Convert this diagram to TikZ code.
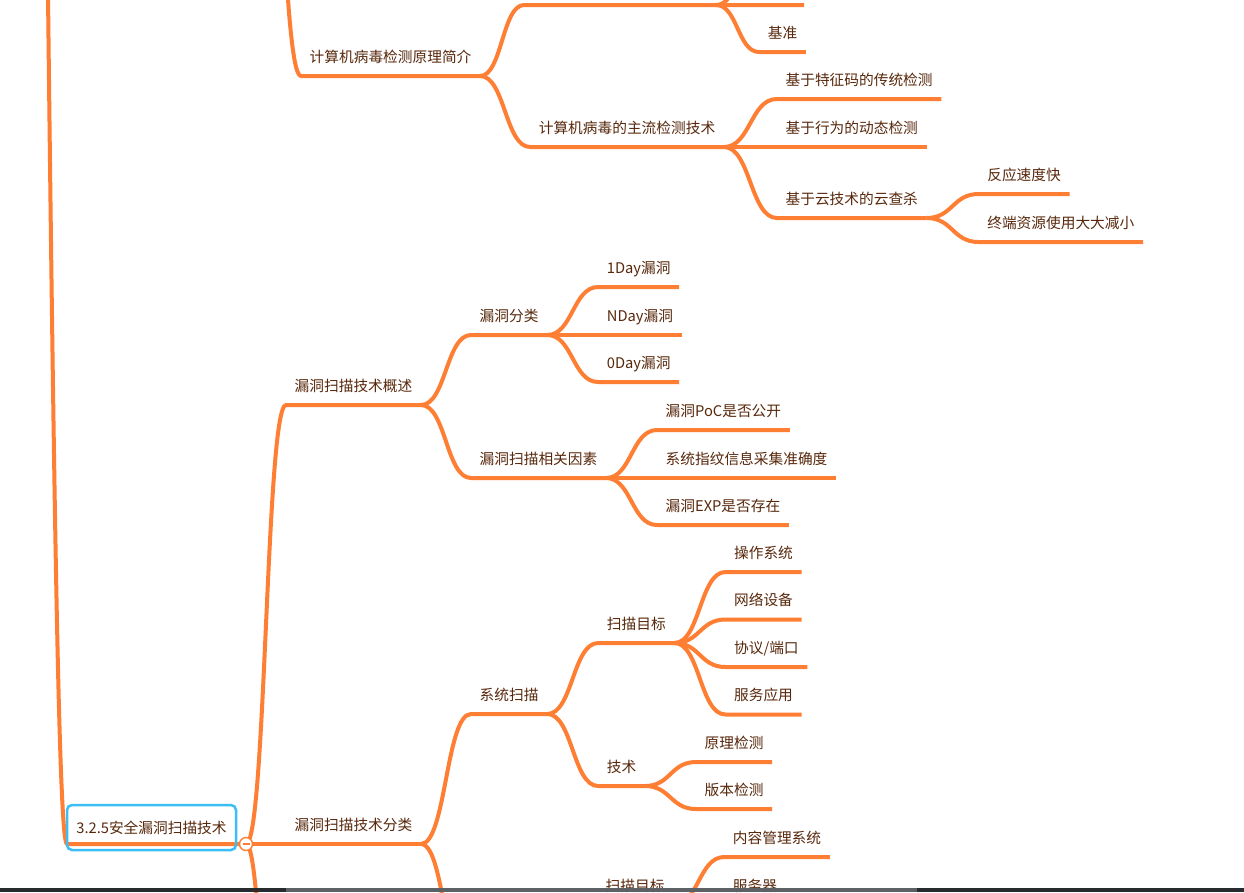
\documentclass[tikz,border=0pt]{standalone}
\usepackage{fontspec}
\setmainfont{Noto Sans CJK SC}
\usepackage{xcolor}
\usetikzlibrary{calc}

\definecolor{branchorange}{RGB}{254,126,52}
\definecolor{topicbrown}{RGB}{88,40,12}
\definecolor{rootblue}{RGB}{60,190,245}
\definecolor{bardark}{RGB}{40,43,46}
\definecolor{bargrey}{RGB}{92,97,102}

\begin{document}
\begin{tikzpicture}[
    x=1pt, y=-1pt,
    topic/.style={
        anchor=south west,
        inner xsep=8.5pt,
        inner ysep=0pt,
        text height=12pt,
        text depth=13.4pt,
        text=topicbrown,
        font=\fontsize{14.7}{17}\selectfont
    },
    rootbox/.style={
        draw=rootblue,
        line width=2.5pt,
        rounded corners=5pt,
        minimum width=169pt,
        minimum height=45pt,
        inner sep=0pt,
        text=topicbrown,
        font=\fontsize{14.7}{17}\selectfont
    },
    link/.style={
        draw=branchorange,
        line width=4pt,
        line join=round
    },
    branch/.style={
        to path={
            let \p1=(\tikztostart), \p2=(\tikztotarget) in
            .. controls ({(\x1+\x2)/2},\y1) and ({(\x1+\x2)/2},\y2) .. (\tikztotarget)
        }
    },
    fold/.style={
        circle,
        draw=branchorange,
        fill=white,
        line width=1.4pt,
        minimum size=13pt,
        inner sep=0pt,
        path picture={
            \draw[branchorange, line width=1.4pt]
                ([xshift=3pt]path picture bounding box.west) --
                ([xshift=-3pt]path picture bounding box.east);
        }
    }
]

\path[use as bounding box, fill=white] (0,0) rectangle (1244,892);
\clip (0,0) rectangle (1244,892);

\coordinate (sec32) at (48,-5);
\coordinate (sec324) at (262,-300);
\coordinate (rootul) at (67,844);
\coordinate (rootjoint) at (246,844);
\coordinate (rootnext) at (286,1300);

\node[topic] (virusintro) at (301,76) {计算机病毒检测原理简介};
\coordinate (hiddenA) at ($(virusintro.south east)+(44,-71)$);
\coordinate (hiddenB) at ($(hiddenA)+(192,0)$);
\coordinate (hiddenup) at ($(hiddenB)+(43,-48)$);
\coordinate (hiddenmid) at ($(hiddenB)+(88,0)$);
\node[topic] (jizhun) at ($(hiddenB)+(43,47)$) {基准};

\node[topic] (mainstream) at ($(virusintro.south east)+(50,71)$) {计算机病毒的主流检测技术};
\node[topic] (signature) at ($(mainstream.south east)+(53,-48)$) {基于特征码的传统检测};
\node[topic] (behaviour) at ($(signature.south west)+(0,48)$) {基于行为的动态检测};
\node[topic] (cloud) at ($(behaviour.south west)+(0,71)$) {基于云技术的云查杀};
\node[topic] (fastreact) at ($(cloud.south east)+(52,-24)$) {反应速度快};
\node[topic] (lowload) at ($(fastreact.south west)+(0,48)$) {终端资源使用大大减小};

\node[topic] (overview) at ($(rootjoint)+(40,-439)$) {漏洞扫描技术概述};
\node[topic] (vulnclass) at ($(overview.south east)+(50,-70)$) {漏洞分类};
\node[topic] (oneday) at ($(vulnclass.south east)+(51,-48)$) {1Day漏洞};
\node[topic] (nday) at ($(oneday.south west)+(0,48)$) {NDay漏洞};
\node[topic] (zeroday) at ($(nday.south west)+(0,47)$) {0Day漏洞};
\node[topic] (factors) at ($(overview.south east)+(50,73)$) {漏洞扫描相关因素};
\node[topic] (poc) at ($(factors.south east)+(51,-48)$) {漏洞PoC是否公开};
\node[topic] (fingerprint) at ($(poc.south west)+(0,48)$) {系统指纹信息采集准确度};
\node[topic] (exploit) at ($(fingerprint.south west)+(0,47)$) {漏洞EXP是否存在};

\node[topic] (scantypes) at ($(rootjoint)+(40,0)$) {漏洞扫描技术分类};
\node[topic] (sysscan) at ($(scantypes.south east)+(50,-130)$) {系统扫描};
\node[topic] (systarget) at ($(sysscan.south east)+(51,-71)$) {扫描目标};
\node[topic] (os) at ($(systarget.south east)+(51,-71)$) {操作系统};
\node[topic] (netdev) at ($(os.south west)+(0,47.5)$) {网络设备};
\node[topic] (port) at ($(netdev.south west)+(0,47.5)$) {协议/端口};
\node[topic] (service) at ($(port.south west)+(0,47.5)$) {服务应用};
\node[topic] (technique) at ($(sysscan.south east)+(51,72)$) {技术};
\node[topic] (principle) at ($(technique.south east)+(51,-24)$) {原理检测};
\node[topic] (version) at ($(principle.south west)+(0,47)$) {版本检测};
\coordinate (nextscanA) at ($(scantypes.south east)+(50,146)$);
\coordinate (nextscanB) at ($(nextscanA)+(79,0)$);
\node[topic] (webtarget) at ($(nextscanB)+(47,-85)$) {扫描目标};
\node[topic] (cms) at ($(webtarget.south east)+(51,-48)$) {内容管理系统};
\node[topic] (server) at ($(cms.south west)+(0,48)$) {服务器};

\draw[link] (sec32) .. controls (55,600) and (60,844) .. (rootul) -- (rootjoint);
\draw[link] (sec324) to[branch] (virusintro.south west) -- (virusintro.south east);
\draw[link] (virusintro.south east) to[branch] (hiddenA) -- (hiddenB) -- (hiddenmid);
\draw[link] (hiddenB) to[branch] (hiddenup) -- ++(40,0);
\draw[link] (hiddenB) to[branch] (jizhun.south west) -- (jizhun.south east);
\draw[link] (virusintro.south east) to[branch] (mainstream.south west) -- (mainstream.south east);
\draw[link] (mainstream.south east) to[branch] (signature.south west) -- (signature.south east);
\draw[link] (mainstream.south east) to[branch] (behaviour.south west) -- (behaviour.south east);
\draw[link] (mainstream.south east) to[branch] (cloud.south west) -- (cloud.south east);
\draw[link] (cloud.south east) to[branch] (fastreact.south west) -- (fastreact.south east);
\draw[link] (cloud.south east) to[branch] (lowload.south west) -- (lowload.south east);

\draw[link] (rootjoint) to[branch] (overview.south west) -- (overview.south east);
\draw[link] (overview.south east) to[branch] (vulnclass.south west) -- (vulnclass.south east);
\draw[link] (vulnclass.south east) to[branch] (oneday.south west) -- (oneday.south east);
\draw[link] (vulnclass.south east) to[branch] (nday.south west) -- (nday.south east);
\draw[link] (vulnclass.south east) to[branch] (zeroday.south west) -- (zeroday.south east);
\draw[link] (overview.south east) to[branch] (factors.south west) -- (factors.south east);
\draw[link] (factors.south east) to[branch] (poc.south west) -- (poc.south east);
\draw[link] (factors.south east) to[branch] (fingerprint.south west) -- (fingerprint.south east);
\draw[link] (factors.south east) to[branch] (exploit.south west) -- (exploit.south east);

\draw[link] (rootjoint) to[branch] (scantypes.south west) -- (scantypes.south east);
\draw[link] (scantypes.south east) to[branch] (sysscan.south west) -- (sysscan.south east);
\draw[link] (sysscan.south east) to[branch] (systarget.south west) -- (systarget.south east);
\draw[link] (systarget.south east) to[branch] (os.south west) -- (os.south east);
\draw[link] (systarget.south east) to[branch] (netdev.south west) -- (netdev.south east);
\draw[link] (systarget.south east) to[branch] (port.south west) -- (port.south east);
\draw[link] (systarget.south east) to[branch] (service.south west) -- (service.south east);
\draw[link] (sysscan.south east) to[branch] (technique.south west) -- (technique.south east);
\draw[link] (technique.south east) to[branch] (principle.south west) -- (principle.south east);
\draw[link] (technique.south east) to[branch] (version.south west) -- (version.south east);
\draw[link] (scantypes.south east) to[branch] (nextscanA) -- (nextscanB);
\draw[link] (nextscanB) to[branch] (webtarget.south west) -- (webtarget.south east);
\draw[link] (webtarget.south east) to[branch] (cms.south west) -- (cms.south east);
\draw[link] (webtarget.south east) to[branch] (server.south west) -- (server.south east);
\draw[link] (rootjoint) to[branch] (rootnext);

\node[rootbox] (root) at (151.5,827.5) {3.2.5安全漏洞扫描技术};
\node[fold] (rootfold) at (rootjoint) {};

\fill[bardark] (0,888) rectangle (1244,892);
\fill[bargrey] (286,888) rectangle (917,892);

\end{tikzpicture}
\end{document}
